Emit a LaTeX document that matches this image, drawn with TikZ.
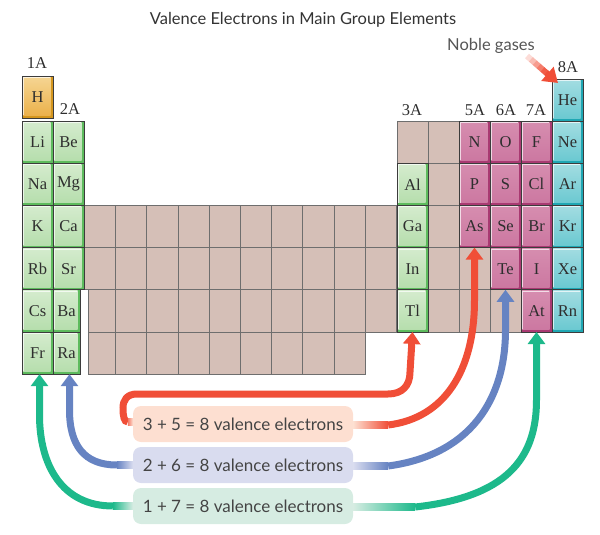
\documentclass[tikz,border=0pt]{standalone}
\usepackage{fontspec}
\setmainfont{Liberation Serif}
\newfontfamily\sansf{Lato}
\usetikzlibrary{arrows.meta,calc}
\definecolor{cellline}{HTML}{3C3C3C}
\definecolor{gridline}{HTML}{6E6E6E}
\definecolor{brownfill}{HTML}{D5BFB7}
\definecolor{gEdge}{HTML}{5DBB5D}
\definecolor{gTop}{HTML}{D4EBCD}
\definecolor{gBot}{HTML}{B6DEAD}
\definecolor{pEdge}{HTML}{A93A72}
\definecolor{pTop}{HTML}{D68DAF}
\definecolor{pBot}{HTML}{CC78A1}
\definecolor{tEdge}{HTML}{1FA7B3}
\definecolor{tTop}{HTML}{A2DCE1}
\definecolor{tBot}{HTML}{6BC9D1}
\definecolor{hEdge}{HTML}{D4961E}
\definecolor{hTop}{HTML}{F5D592}
\definecolor{hBot}{HTML}{EBB14B}
\definecolor{elemtext}{HTML}{2E2E2E}
\definecolor{arrRed}{HTML}{F04E37}
\definecolor{arrBlue}{HTML}{6683C2}
\definecolor{arrGreen}{HTML}{1DB98B}
\definecolor{boxPeach}{HTML}{FDDFD1}
\definecolor{boxLav}{HTML}{D9DCEF}
\definecolor{boxMint}{HTML}{D6ECE2}
\definecolor{labeltext}{HTML}{444444}
\definecolor{titletext}{HTML}{333333}
\definecolor{noblegray}{HTML}{555555}
\newcommand\elemfont{\fontsize{16.5pt}{18pt}\selectfont}
\newcommand\boxfont{\sansf\fontsize{17pt}{19pt}\selectfont}
\newcommand\titlefont{\sansf\fontsize{16.5pt}{19pt}\selectfont}
\newcommand\cellpic[3]{%
  \fill[#1] (path picture bounding box.south west) rectangle (path picture bounding box.north east);
  \shade[top color=#2, bottom color=#3] ([shift={(1pt,-1pt)}]path picture bounding box.north west) rectangle ([shift={(-2.5pt,2.5pt)}]path picture bounding box.south east);
  \draw[white, opacity=0.7, line width=0.8pt] ([shift={(1.4pt,2.9pt)}]path picture bounding box.south west) -- ([shift={(1.4pt,-1.4pt)}]path picture bounding box.north west) -- ([shift={(-2.9pt,-1.4pt)}]path picture bounding box.north east);
}
\tikzset{
 elem/.style={draw=cellline, line width=0.9pt, minimum width=31pt, minimum height=42.2pt, inner sep=0pt, outer sep=0pt, anchor=north west, font=\elemfont, text=elemtext},
 grn/.style={elem, path picture={\cellpic{gEdge}{gTop}{gBot}}},
 pnk/.style={elem, path picture={\cellpic{pEdge}{pTop}{pBot}}},
 tea/.style={elem, path picture={\cellpic{tEdge}{tTop}{tBot}}},
 hyd/.style={elem, path picture={\cellpic{hEdge}{hTop}{hBot}}},
 brn/.style={fill=brownfill, draw=gridline, line width=0.9pt},
 grp/.style={font=\elemfont, text=elemtext, inner sep=0pt},
 lbox/.style={minimum width=220pt, minimum height=36pt, rounded corners=8pt, inner sep=0pt, font=\boxfont, text=labeltext},
 conn/.style={line width=7pt, -{Triangle[width=17pt,length=12pt]}},
}
\begin{document}
\begin{tikzpicture}[x=1pt,y=-1pt]
\useasboundingbox (0,0) rectangle (600,535);
% title
\node[font=\titlefont, text=titletext] (title) at (303,20) {Valence Electrons in Main Group Elements};
% transition block (brown cells)
\foreach \r in {205.4,247.6}{\foreach \i in {0,...,9}{\filldraw[brn] (84.5+31.2*\i,\r) rectangle ++(31.2,42.2);}}
\filldraw[brn] (88,289.8) rectangle (115.7,332);
\foreach \i in {1,...,9}{\filldraw[brn] (84.5+31.2*\i,289.8) rectangle ++(31.2,42.2);}
\filldraw[brn] (88,332) rectangle (115.7,374.2);
\foreach \i in {1,...,8}{\filldraw[brn] (84.5+31.2*\i,332) rectangle ++(31.2,42.2);}
\filldraw[brn] (397,121) rectangle ++(31,42.2);
\foreach \r in {121,163.2,205.4,247.6,289.8}{\filldraw[brn] (428,\r) rectangle ++(31,42.2);}
\filldraw[brn] (459,247.6) rectangle ++(31,42.2);
\filldraw[brn] (459,289.8) rectangle ++(31,42.2);
\filldraw[brn] (490,289.8) rectangle ++(31,42.2);
% element cells
\node[hyd, minimum height=42pt] (H) at (22,76) {H};
\node[tea, minimum height=42pt] (He) at (552,79) {He};
\foreach \n/\x in {Li/22,Be/53}{\node[grn] (\n) at (\x,121) {\n};}
\foreach \n/\x in {N/459,O/490,F/521}{\node[pnk] (\n) at (\x,121) {\n};}
\node[tea] (Ne) at (552,121) {Ne};
\foreach \n/\x in {Na/22,Mg/53,Al/397}{\node[grn] (\n) at (\x,163.2) {\n};}
\foreach \n/\x in {P/459,S/490,Cl/521}{\node[pnk] (\n) at (\x,163.2) {\n};}
\node[tea] (Ar) at (552,163.2) {Ar};
\foreach \n/\x in {K/22,Ca/53,Ga/397}{\node[grn] (\n) at (\x,205.4) {\n};}
\foreach \n/\x in {As/459,Se/490,Br/521}{\node[pnk] (\n) at (\x,205.4) {\n};}
\node[tea] (Kr) at (552,205.4) {Kr};
\foreach \n/\x in {Rb/22,Sr/53,In/397}{\node[grn] (\n) at (\x,247.6) {\n};}
\foreach \n/\x in {Te/490,I/521}{\node[pnk] (\n) at (\x,247.6) {\n};}
\node[tea] (Xe) at (552,247.6) {Xe};
\node[grn] (Cs) at (22,289.8) {Cs};
\node[grn, minimum width=27pt] (Ba) at (53,289.8) {Ba};
\node[grn] (Tl) at (397,289.8) {Tl};
\node[pnk] (At) at (521,289.8) {At};
\node[tea] (Rn) at (552,289.8) {Rn};
\node[grn] (Fr) at (22,332) {Fr};
\node[grn, minimum width=27pt] (Ra) at (53,332) {Ra};
% group labels
\node[grp] (g1) at (37,63) {1A};
\node[grp] (g2) at (70,109) {2A};
\node[grp] (g3) at (412,110) {3A};
\node[grp] (g5) at (475,110) {5A};
\node[grp] (g6) at (506,110) {6A};
\node[grp] (g7) at (536,110) {7A};
\node[grp] (g8) at (568,67) {8A};
% noble gases
\node[font=\titlefont, text=noblegray] (noble) at (491,46) {Noble gases};
\coordinate (nbTail) at (527,56);
\coordinate (nbTip) at ([shift={(6,4)}]He.north west);
\foreach \k in {0,...,4}{
  \pgfmathtruncatemacro\pc{20+18*\k}
  \draw[line width=6pt, draw=arrRed!\pc!white] ($(nbTail)!{\k/8}!(nbTip)$) -- ($(nbTail)!{(\k+1.1)/8}!(nbTip)$);
}
\draw[line width=6pt, arrRed, -{Triangle[width=18pt,length=14pt]}] ($(nbTail)!0.62!(nbTip)$) -- (nbTip);
% label boxes
\node[lbox, fill=boxPeach] (l35) at (243,424) {3 + 5 = 8 valence electrons};
\node[lbox, fill=boxLav] (l26) at (243,465) {2 + 6 = 8 valence electrons};
\node[lbox, fill=boxMint] (l17) at (243,506) {1 + 7 = 8 valence electrons};
% connectors
\draw[conn, arrGreen] ([shift={(-20,0)}]l17.west) .. controls (62,506) and (39.5,465) .. (39.5,415) -- ([xshift=2]Fr.south);
\draw[conn, arrBlue] ([shift={(-16,0)}]l26.west) .. controls (84,465) and (69.5,445) .. (69.5,410) -- ([xshift=3]Ra.south);
\draw[conn, arrRed] ([shift={(-5,-2)}]l35.west) .. controls (124,422) and (123,416) .. (123,408) .. controls (123,400) and (127,394) .. (137,394) -- (388,394) .. controls (402,394) and (410,386) .. (410,372) -- (Tl.south);
\draw[conn, arrRed] ([shift={(35,1)}]l35.east) .. controls (445,418) and (474.5,370) .. (474.5,300) -- (As.south);
\draw[conn, arrBlue] ([shift={(35,1)}]l26.east) .. controls (470,455) and (505.5,400) .. (505.5,330) -- (Te.south);
\draw[conn, arrGreen] ([shift={(62,1)}]l17.east) .. controls (505,497) and (536.5,460) .. (536.5,400) -- (At.south);
% fading ends
\shade[left color=arrGreen, right color=boxMint] ([shift={(-20,-3.5)}]l17.west) rectangle ([shift={(0,3.5)}]l17.west);
\shade[left color=arrBlue, right color=boxLav] ([shift={(-16,-3.5)}]l26.west) rectangle ([shift={(0,3.5)}]l26.west);
\shade[left color=arrRed!70!boxPeach, right color=boxPeach] ([shift={(-5,-5.5)}]l35.west) rectangle ([shift={(0,1.5)}]l35.west);
\shade[left color=boxPeach, right color=arrRed] ([shift={(0,-2.5)}]l35.east) rectangle ([shift={(35,4.5)}]l35.east);
\shade[left color=boxLav, right color=arrBlue] ([shift={(0,-2.5)}]l26.east) rectangle ([shift={(35,4.5)}]l26.east);
\shade[left color=boxMint, right color=arrGreen] ([shift={(0,-2.5)}]l17.east) rectangle ([shift={(62,4.5)}]l17.east);
\end{tikzpicture}
\end{document}
